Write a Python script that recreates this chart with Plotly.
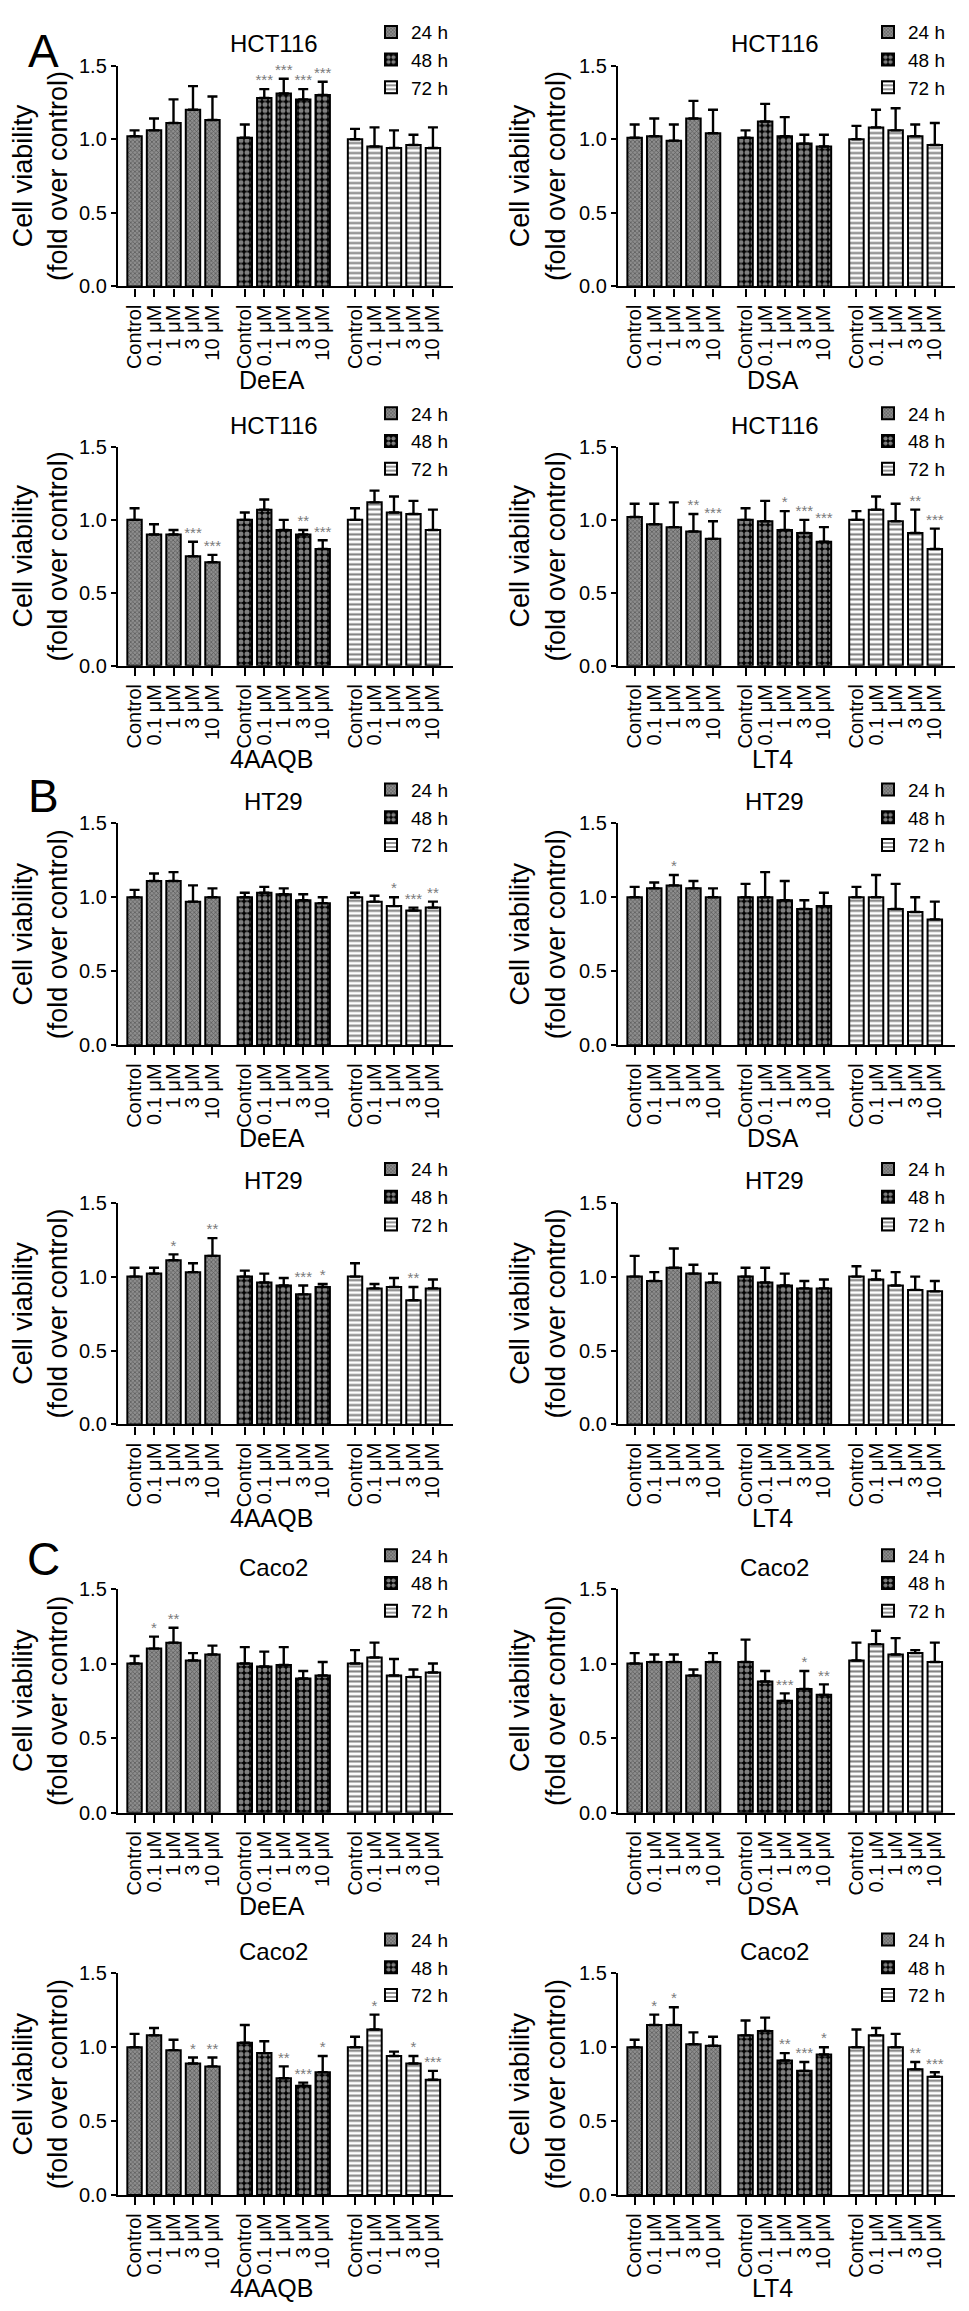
import plotly.graph_objects as go

# ---------------- data ----------------
CONCENTRATIONS = ["Control", "0.1 μM", "1 μM", "3 μM", "10 μM"]
TIMES = ["24 h", "48 h", "72 h"]
Y_TICKS = [0.0, 0.5, 1.0, 1.5]

# HCT116
HCT116_DeEA_mean = [[1.02, 1.06, 1.11, 1.20, 1.13], [1.01, 1.28, 1.31, 1.27, 1.30], [1.00, 0.95, 0.94, 0.96, 0.94]]
HCT116_DeEA_sem = [[0.04, 0.08, 0.16, 0.16, 0.16], [0.09, 0.06, 0.10, 0.07, 0.09], [0.07, 0.13, 0.12, 0.07, 0.14]]
HCT116_DeEA_sig = [["", "", "", "", ""], ["", "***", "***", "***", "***"], ["", "", "", "", ""]]

HCT116_DSA_mean = [[1.01, 1.02, 0.99, 1.14, 1.04], [1.01, 1.12, 1.02, 0.97, 0.95], [1.00, 1.08, 1.06, 1.02, 0.96]]
HCT116_DSA_sem = [[0.09, 0.12, 0.11, 0.12, 0.16], [0.05, 0.12, 0.13, 0.06, 0.08], [0.09, 0.12, 0.15, 0.08, 0.15]]
HCT116_DSA_sig = [["", "", "", "", ""], ["", "", "", "", ""], ["", "", "", "", ""]]

HCT116_4AAQB_mean = [[1.00, 0.90, 0.90, 0.75, 0.71], [1.00, 1.07, 0.93, 0.90, 0.80], [1.00, 1.12, 1.05, 1.04, 0.93]]
HCT116_4AAQB_sem = [[0.08, 0.07, 0.03, 0.10, 0.05], [0.05, 0.07, 0.07, 0.03, 0.06], [0.08, 0.08, 0.11, 0.09, 0.14]]
HCT116_4AAQB_sig = [["", "", "", "***", "***"], ["", "", "", "**", "***"], ["", "", "", "", ""]]

HCT116_LT4_mean = [[1.02, 0.97, 0.95, 0.92, 0.87], [1.00, 0.99, 0.93, 0.91, 0.85], [1.00, 1.07, 0.99, 0.91, 0.80]]
HCT116_LT4_sem = [[0.09, 0.14, 0.17, 0.12, 0.12], [0.08, 0.14, 0.13, 0.09, 0.10], [0.06, 0.09, 0.12, 0.16, 0.14]]
HCT116_LT4_sig = [["", "", "", "**", "***"], ["", "", "*", "***", "***"], ["", "", "", "**", "***"]]

# HT29
HT29_DeEA_mean = [[1.00, 1.11, 1.11, 0.97, 1.00], [1.00, 1.03, 1.02, 0.98, 0.96], [1.00, 0.97, 0.94, 0.91, 0.93]]
HT29_DeEA_sem = [[0.05, 0.05, 0.06, 0.11, 0.06], [0.03, 0.04, 0.04, 0.04, 0.04], [0.03, 0.04, 0.06, 0.02, 0.04]]
HT29_DeEA_sig = [["", "", "", "", ""], ["", "", "", "", ""], ["", "", "*", "***", "**"]]

HT29_DSA_mean = [[1.00, 1.06, 1.08, 1.06, 1.00], [1.00, 1.00, 0.98, 0.92, 0.94], [1.00, 1.00, 0.92, 0.90, 0.85]]
HT29_DSA_sem = [[0.07, 0.04, 0.07, 0.05, 0.06], [0.09, 0.17, 0.13, 0.06, 0.09], [0.07, 0.15, 0.17, 0.10, 0.12]]
HT29_DSA_sig = [["", "", "*", "", ""], ["", "", "", "", ""], ["", "", "", "", ""]]

HT29_4AAQB_mean = [[1.00, 1.02, 1.11, 1.03, 1.14], [1.00, 0.96, 0.94, 0.88, 0.93], [1.00, 0.92, 0.93, 0.84, 0.92]]
HT29_4AAQB_sem = [[0.06, 0.04, 0.04, 0.06, 0.12], [0.04, 0.06, 0.05, 0.06, 0.02], [0.09, 0.03, 0.06, 0.09, 0.06]]
HT29_4AAQB_sig = [["", "", "*", "", "**"], ["", "", "", "***", "*"], ["", "", "", "**", ""]]

HT29_LT4_mean = [[1.00, 0.97, 1.06, 1.02, 0.96], [1.00, 0.96, 0.94, 0.92, 0.92], [1.00, 0.98, 0.94, 0.91, 0.90]]
HT29_LT4_sem = [[0.14, 0.06, 0.13, 0.06, 0.06], [0.06, 0.10, 0.08, 0.05, 0.06], [0.07, 0.06, 0.09, 0.09, 0.07]]
HT29_LT4_sig = [["", "", "", "", ""], ["", "", "", "", ""], ["", "", "", "", ""]]

# Caco2
Caco2_DeEA_mean = [[1.00, 1.10, 1.14, 1.02, 1.06], [1.00, 0.98, 0.99, 0.90, 0.92], [1.00, 1.04, 0.92, 0.91, 0.94]]
Caco2_DeEA_sem = [[0.05, 0.08, 0.10, 0.05, 0.06], [0.11, 0.10, 0.12, 0.05, 0.09], [0.09, 0.10, 0.11, 0.05, 0.06]]
Caco2_DeEA_sig = [["", "*", "**", "", ""], ["", "", "", "", ""], ["", "", "", "", ""]]

Caco2_DSA_mean = [[1.00, 1.01, 1.01, 0.92, 1.01], [1.01, 0.88, 0.75, 0.83, 0.79], [1.02, 1.13, 1.06, 1.07, 1.01]]
Caco2_DSA_sem = [[0.07, 0.05, 0.05, 0.04, 0.06], [0.15, 0.07, 0.05, 0.12, 0.07], [0.12, 0.09, 0.11, 0.02, 0.13]]
Caco2_DSA_sig = [["", "", "", "", ""], ["", "", "***", "*", "**"], ["", "", "", "", ""]]

Caco2_4AAQB_mean = [[1.00, 1.08, 0.98, 0.89, 0.87], [1.03, 0.96, 0.79, 0.74, 0.83], [1.00, 1.12, 0.94, 0.89, 0.78]]
Caco2_4AAQB_sem = [[0.09, 0.05, 0.07, 0.04, 0.06], [0.12, 0.08, 0.08, 0.02, 0.11], [0.07, 0.10, 0.03, 0.05, 0.06]]
Caco2_4AAQB_sig = [["", "", "", "*", "**"], ["", "", "**", "***", "*"], ["", "*", "", "*", "***"]]

Caco2_LT4_mean = [[1.00, 1.15, 1.15, 1.02, 1.01], [1.08, 1.11, 0.91, 0.84, 0.95], [1.00, 1.08, 1.00, 0.85, 0.80]]
Caco2_LT4_sem = [[0.05, 0.07, 0.12, 0.08, 0.06], [0.10, 0.09, 0.05, 0.06, 0.05], [0.12, 0.05, 0.09, 0.05, 0.03]]
Caco2_LT4_sig = [["", "*", "*", "", ""], ["", "", "**", "***", "*"], ["", "", "", "**", "***"]]

PANELS = [
    ("HCT116", "DeEA", HCT116_DeEA_mean, HCT116_DeEA_sem, HCT116_DeEA_sig),
    ("HCT116", "DSA", HCT116_DSA_mean, HCT116_DSA_sem, HCT116_DSA_sig),
    ("HCT116", "4AAQB", HCT116_4AAQB_mean, HCT116_4AAQB_sem, HCT116_4AAQB_sig),
    ("HCT116", "LT4", HCT116_LT4_mean, HCT116_LT4_sem, HCT116_LT4_sig),
    ("HT29", "DeEA", HT29_DeEA_mean, HT29_DeEA_sem, HT29_DeEA_sig),
    ("HT29", "DSA", HT29_DSA_mean, HT29_DSA_sem, HT29_DSA_sig),
    ("HT29", "4AAQB", HT29_4AAQB_mean, HT29_4AAQB_sem, HT29_4AAQB_sig),
    ("HT29", "LT4", HT29_LT4_mean, HT29_LT4_sem, HT29_LT4_sig),
    ("Caco2", "DeEA", Caco2_DeEA_mean, Caco2_DeEA_sem, Caco2_DeEA_sig),
    ("Caco2", "DSA", Caco2_DSA_mean, Caco2_DSA_sem, Caco2_DSA_sig),
    ("Caco2", "4AAQB", Caco2_4AAQB_mean, Caco2_4AAQB_sem, Caco2_4AAQB_sig),
    ("Caco2", "LT4", Caco2_LT4_mean, Caco2_LT4_sem, Caco2_LT4_sig),
]
PANEL_LETTERS = ["A", "B", "C"]

# ---------------- layout geometry (pixels) ----------------
W, H = 969, 2311
FONT = "Liberation Sans, Arial, Helvetica, sans-serif"
ROW_TOP = [47, 432, 812, 1195, 1585, 1973]      # y of 1.5
ROW_BOT = [270, 653, 1036, 1419, 1811, 2197]    # y of 0.0
COL_X = [(110, 445), (610, 947)]
LEGEND_X = [363, 860]
TITLE_DX = -12
LETTER_POS = [(35, 32), (35, 784), (35, 1555)]
GROUP_STEP = 5.66

PATTERNS = [
    dict(shape="x", size=3, solidity=0.4, fgcolor="#1e1e1e", bgcolor="#8e8e8e"),
    dict(shape=".", size=6, solidity=0.55, fgcolor="white", bgcolor="black"),
    dict(shape="-", size=5, solidity=0.42, fgcolor="black", bgcolor="white"),
]


def px_x(v):
    return v / W


def px_y(v):
    return 1 - v / H


fig = go.Figure()
annotations = []
layout = {}

xpos_all = []
for g in range(3):
    xpos_all += [g * GROUP_STEP + i for i in range(5)]

for k, (cell, comp, means, sems, sigs) in enumerate(PANELS):
    r, c = divmod(k, 2)
    sfx = "" if k == 0 else str(k + 1)
    xa, ya = "x" + sfx, "y" + sfx
    leg = "legend" + sfx
    for g in range(3):
        xs = [g * GROUP_STEP + i for i in range(5)]
        fig.add_trace(go.Bar(
            x=xs, y=means[g], width=0.74, name=TIMES[g],
            xaxis=xa, yaxis=ya, legend=leg, showlegend=True,
            marker=dict(line=dict(color="black", width=2), pattern=PATTERNS[g],
                        color=PATTERNS[g]["bgcolor"]),
            error_y=dict(type="data", symmetric=False, array=sems[g],
                         arrayminus=[0] * 5, color="black", thickness=2.4, width=5),
        ))
        fig.add_trace(go.Scatter(
            x=xs, y=[m + s for m, s in zip(means[g], sems[g])], text=sigs[g],
            mode="text", textposition="top center", cliponaxis=False,
            textfont=dict(size=15, color="#7a7a7a", family=FONT),
            xaxis=xa, yaxis=ya, showlegend=False, hoverinfo="skip",
        ))
    x0, x1 = COL_X[c]
    layout["xaxis" + sfx] = dict(
        domain=[px_x(x0), px_x(x1)], anchor=ya, range=[-0.85, 16.35],
        tickvals=xpos_all, ticktext=CONCENTRATIONS * 3, tickangle=-90,
        showline=True, linecolor="black", linewidth=2.4, ticks="outside",
        ticklen=8, tickwidth=2, tickcolor="black", showgrid=False, zeroline=False,
        tickfont=dict(size=20, color="black", family=FONT),
    )
    layout["yaxis" + sfx] = dict(
        domain=[px_y(ROW_BOT[r]), px_y(ROW_TOP[r])], anchor=xa, range=[0, 1.5],
        tickvals=Y_TICKS, tickformat=".1f", showline=True, linecolor="black",
        linewidth=2.4, ticks="outside", ticklen=5, tickwidth=2, tickcolor="black",
        showgrid=False, zeroline=False,
        tickfont=dict(size=20, color="black", family=FONT),
        title=dict(text="Cell viability<br>(fold over control)", standoff=6,
                   font=dict(size=27, color="black", family=FONT)),
    )
    layout[leg] = dict(
        x=px_x(LEGEND_X[c]), y=px_y(ROW_TOP[r] - 53),
        xanchor="left", yanchor="top", bgcolor="rgba(0,0,0,0)",
        font=dict(size=19, color="black", family=FONT), itemwidth=30,
        tracegroupgap=0, traceorder="normal",
    )
    cx = (x0 + x1) / 2 + TITLE_DX
    annotations.append(dict(
        text=cell, x=px_x(cx), y=px_y(ROW_TOP[r] - 22), xref="paper", yref="paper",
        showarrow=False, xanchor="center", yanchor="middle",
        font=dict(size=24, color="black", family=FONT)))
    annotations.append(dict(
        text=comp, x=px_x(cx - 2), y=px_y(ROW_BOT[r] + 94), xref="paper", yref="paper",
        showarrow=False, xanchor="center", yanchor="middle",
        font=dict(size=25, color="black", family=FONT)))

for letter, (lx, ly) in zip(PANEL_LETTERS, LETTER_POS):
    annotations.append(dict(
        text=letter, x=px_x(lx), y=px_y(ly), xref="paper", yref="paper",
        showarrow=False, xanchor="center", yanchor="middle",
        font=dict(size=46, color="black", family=FONT)))

fig.update_layout(
    width=W, height=H, margin=dict(l=0, r=0, t=0, b=0),
    paper_bgcolor="white", plot_bgcolor="white", barmode="overlay",
    font=dict(family=FONT, color="black"), annotations=annotations, **layout,
)

fig.write_html("out.html")
